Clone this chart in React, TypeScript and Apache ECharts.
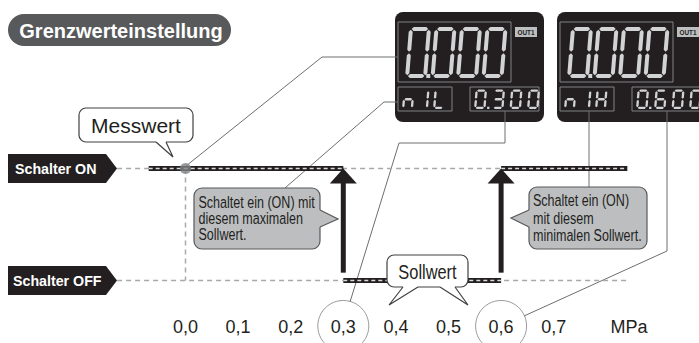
import React, { useEffect, useRef } from 'react';
import * as echarts from 'echarts';

// ---------- data ----------
const tickLabels = ['0,0', '0,1', '0,2', '0,3', '0,4', '0,5', '0,6', '0,7'];
const unitLabel = 'MPa';
const STATE_ON = 1;
const STATE_OFF = 0;
const measuredValue = 0.0;
const lowSetpoint = 0.3; // n1L
const highSetpoint = 0.6; // n1H
const lineStart = -0.13;
const lineEnd = 0.84;
const onLeftStart = -0.07;
const arrowBase = 0.07;
const circledValues = [0.3, 0.6];
const circleLevel = -0.406;
const mainReading = '0.000';
const displayCodes = ['n1L', 'n1H'];
const displayValues = [lowSetpoint.toFixed(3), highSetpoint.toFixed(3)];

const FONT = 'Liberation Sans, Arial, Helvetica, sans-serif';
const DARK = '#231f20';
const GRAY_LINE = '#6d6e71';

// ---------- 7 segment helper ----------
const SEG_MAP: Record<string, string> = {
  '0': 'abcdef', '1': 'bc', '2': 'abdeg', '3': 'abcdg', '4': 'bcfg', '5': 'acdfg',
  '6': 'acdefg', '7': 'abc', '8': 'abcdefg', '9': 'abcdfg', n: 'ceg', L: 'def', H: 'bcefg', ' ': '',
};

function segLocal(seg: string, w: number, h: number, t: number): number[][] {
  const g = Math.max(0.5, t * 0.18);
  const hor = (yc: number) => {
    const xa = t / 2, xb = w - t / 2;
    return [[xa + g, yc], [xa + g + t / 2, yc - t / 2], [xb - g - t / 2, yc - t / 2], [xb - g, yc], [xb - g - t / 2, yc + t / 2], [xa + g + t / 2, yc + t / 2]];
  };
  const ver = (xc: number, ya: number, yb: number) => [[xc, ya + g], [xc + t / 2, ya + g + t / 2], [xc + t / 2, yb - g - t / 2], [xc, yb - g], [xc - t / 2, yb - g - t / 2], [xc - t / 2, ya + g + t / 2]];
  switch (seg) {
    case 'a': return hor(t / 2);
    case 'g': return hor(h / 2);
    case 'd': return hor(h - t / 2);
    case 'f': return ver(t / 2, t / 2, h / 2);
    case 'b': return ver(w - t / 2, t / 2, h / 2);
    case 'e': return ver(t / 2, h / 2, h - t / 2);
    case 'c': return ver(w - t / 2, h / 2, h - t / 2);
  }
  return [];
}

function sevenSeg(str: string, xs: number[], y0: number, w: number, h: number, t: number, slant: number, color: string) {
  const els: any[] = [];
  let idx = 0;
  let prevX = xs[0];
  for (const ch of str) {
    if (ch === '.') {
      const nextX = xs[idx] !== undefined ? xs[idx] : prevX + w + 4;
      const dx = (prevX + w + nextX) / 2 - t / 2 - 0.5;
      els.push({ type: 'rect', shape: { x: dx, y: y0 + h - t, width: t, height: t }, style: { fill: color } });
      continue;
    }
    const cx = xs[idx];
    const segs = SEG_MAP[ch] || '';
    for (const s of segs) {
      const pts = segLocal(s, w, h, t).map(([px, py]) => [cx + px + slant * (h - py), y0 + py]);
      els.push({ type: 'polygon', shape: { points: pts }, style: { fill: color } });
    }
    prevX = cx;
    idx++;
  }
  return els;
}

function panel(dx: number, code: string, value: string) {
  const els: any[] = [];
  const segColor = '#d1d3d4';
  els.push({ type: 'rect', shape: { x: 395 + dx, y: 12, width: 149, height: 110, r: 8 }, style: { fill: '#231f20' } });
  els.push({ type: 'rect', shape: { x: 398 + dx, y: 22, width: 113, height: 60 }, style: { fill: 'none', stroke: '#808285', lineWidth: 1 } });
  els.push({ type: 'rect', shape: { x: 515 + dx, y: 27, width: 22, height: 10 }, style: { fill: '#bcbec0' } });
  els.push({ type: 'text', x: 517.5 + dx, y: 32.5, scaleX: 0.8, style: { x: 0, y: 0, text: 'OUT1', fill: DARK, font: 'bold 8px ' + FONT, verticalAlign: 'middle', align: 'left' } });
  els.push({ type: 'rect', shape: { x: 398 + dx, y: 87, width: 54, height: 24 }, style: { fill: 'none', stroke: '#808285', lineWidth: 1 } });
  els.push({ type: 'rect', shape: { x: 470 + dx, y: 87, width: 69, height: 24 }, style: { fill: 'none', stroke: '#808285', lineWidth: 1 } });
  els.push(...sevenSeg(mainReading, [405, 430.5, 456, 481.5].map((v) => v + dx), 27, 22, 51, 4, 0.08, segColor));
  els.push(...sevenSeg(code, [402, 417, 433].map((v) => v + dx), 89.5, 11, 19.5, 2.3, 0.08, segColor));
  els.push(...sevenSeg(value, [474, 492, 509.5, 527].map((v) => v + dx), 89.5, 11.5, 19.5, 2.3, 0.08, segColor));
  return els;
}

function bubbleTail(base1: number[], tip: number[], base2: number[], fill: string, stroke: string, inward: number[]) {
  const b1 = [base1[0] + inward[0], base1[1] + inward[1]];
  const b2 = [base2[0] + inward[0], base2[1] + inward[1]];
  return [
    { type: 'polygon', z: 10, shape: { points: [b1, base1, tip, base2, b2] }, style: { fill } },
    { type: 'polyline', z: 10, shape: { points: [base1, tip, base2] }, style: { stroke, lineWidth: 1.2, fill: 'none' } },
  ];
}

function buildGraphic() {
  const els: any[] = [];
  // heading pill
  els.push({ type: 'rect', shape: { x: 8, y: 14, width: 223, height: 32, r: 16 }, style: { fill: '#58595b' } });
  els.push({ type: 'text', x: 121, y: 30.5, style: { text: 'Grenzwerteinstellung', fill: '#fff', font: 'bold 20px ' + FONT, align: 'center', verticalAlign: 'middle' } });

  // Schalter labels
  els.push({ type: 'polygon', shape: { points: [[8, 154], [106, 154], [117, 168.5], [106, 183], [8, 183]] }, style: { fill: DARK } });
  els.push({ type: 'text', x: 15, y: 169, scaleX: 0.95, style: { x: 0, y: 0, text: 'Schalter ON', fill: '#fff', font: 'bold 15px ' + FONT, align: 'left', verticalAlign: 'middle' } });
  els.push({ type: 'polygon', shape: { points: [[8, 266], [106, 266], [117, 280.5], [106, 295], [8, 295]] }, style: { fill: DARK } });
  els.push({ type: 'text', x: 13, y: 281, scaleX: 0.95, style: { x: 0, y: 0, text: 'Schalter OFF', fill: '#fff', font: 'bold 15px ' + FONT, align: 'left', verticalAlign: 'middle' } });

  // panels
  els.push(...panel(0, displayCodes[0], displayValues[0]));
  els.push(...panel(162, displayCodes[1], displayValues[1]));

  // leader lines
  const leaders = [
    [[186, 166], [322, 57], [398, 57]],
    [[398, 102], [384, 102], [285, 188]],
    [[505, 111], [505, 143], [399, 143], [350, 302]],
    [[589, 111], [589, 187]],
    [[667, 111], [667, 251], [524, 316]],
  ];
  leaders.forEach((pts) => els.push({ type: 'polyline', z: 1, shape: { points: pts }, style: { stroke: GRAY_LINE, lineWidth: 1, fill: 'none' } }));

  // Messwert bubble
  els.push({ type: 'rect', z: 10, shape: { x: 79, y: 108, width: 114, height: 34, r: 7 }, style: { fill: '#fff', stroke: '#414042', lineWidth: 1.2 } });
  els.push(...bubbleTail([156, 142], [173, 157], [166, 142], '#fff', '#414042', [0, -2]));
  els.push({ type: 'text', z: 11, x: 136, y: 125.5, style: { text: 'Messwert', fill: DARK, font: '21px ' + FONT, align: 'center', verticalAlign: 'middle' } });

  // Sollwert bubble
  els.push({ type: 'rect', z: 10, shape: { x: 387, y: 255, width: 81, height: 32, r: 7 }, style: { fill: '#fff', stroke: '#414042', lineWidth: 1.2 } });
  els.push(...bubbleTail([403, 287], [389, 305], [418, 287], '#fff', '#414042', [0, -2]));
  els.push(...bubbleTail([440, 287], [468, 305], [455, 287], '#fff', '#414042', [0, -2]));
  els.push({ type: 'text', z: 11, x: 427.5, y: 271.5, scaleX: 0.82, style: { x: 0, y: 0, text: 'Sollwert', fill: DARK, font: '20px ' + FONT, align: 'center', verticalAlign: 'middle' } });

  // gray callouts
  const calloutFill = '#bcbec0';
  const calloutStroke = '#58595b';
  els.push({ type: 'rect', z: 10, shape: { x: 194, y: 188, width: 126, height: 61, r: 8 }, style: { fill: calloutFill, stroke: calloutStroke, lineWidth: 1.2 } });
  els.push(...bubbleTail([320, 210], [338, 219], [320, 227], calloutFill, calloutStroke, [-2, 0]));
  els.push({ type: 'text', z: 11, x: 198.5, y: 194, scaleX: 0.76, style: { x: 0, y: 0, text: 'Schaltet ein (ON) mit\ndiesem maximalen\nSollwert.', fill: DARK, font: '16.5px ' + FONT, lineHeight: 16, align: 'left', verticalAlign: 'top' } });

  els.push({ type: 'rect', z: 10, shape: { x: 529, y: 187, width: 118, height: 62, r: 8 }, style: { fill: calloutFill, stroke: calloutStroke, lineWidth: 1.2 } });
  els.push(...bubbleTail([529, 210], [511, 218], [529, 227], calloutFill, calloutStroke, [2, 0]));
  els.push({ type: 'text', z: 11, x: 533, y: 192, scaleX: 0.76, style: { x: 0, y: 0, text: 'Schaltet ein (ON)\nmit diesem\nminimalen Sollwert.', fill: DARK, font: '16.5px ' + FONT, lineHeight: 17.5, align: 'left', verticalAlign: 'top' } });

  // unit
  els.push({ type: 'text', x: 629, y: 327, style: { text: unitLabel, fill: DARK, font: '18px ' + FONT, align: 'center', verticalAlign: 'middle' } });
  return els;
}

function seg(a: number[], b: number[]) {
  return [a, b];
}

function buildOption(): any {
  const dashedLevels = [
    seg([lineStart, STATE_ON], [lineEnd, STATE_ON]),
    seg([lineStart, STATE_OFF], [lineEnd, STATE_OFF]),
    seg([measuredValue, STATE_ON], [measuredValue, STATE_OFF]),
  ];
  const thickSegments = [
    seg([onLeftStart, STATE_ON], [lowSetpoint, STATE_ON]),
    seg([lowSetpoint, STATE_OFF], [highSetpoint, STATE_OFF]),
    seg([highSetpoint, STATE_ON], [lineEnd, STATE_ON]),
  ];
  const series: any[] = [];
  dashedLevels.forEach((d) =>
    series.push({ type: 'line', data: d, symbol: 'none', clip: false, z: 2, lineStyle: { color: '#a7a9ac', width: 1.5, type: [5, 4] } })
  );
  thickSegments.forEach((d) => {
    series.push({ type: 'line', data: d, symbol: 'none', clip: false, z: 3, lineStyle: { color: DARK, width: 5, cap: 'butt' } });
    series.push({ type: 'line', data: d, symbol: 'none', clip: false, z: 4, lineStyle: { color: '#d9d9d9', width: 1.4, type: [4, 3] } });
  });
  series.push({
    type: 'custom',
    z: 5,
    clip: false,
    data: [[lowSetpoint, arrowBase, STATE_ON], [highSetpoint, arrowBase, STATE_ON]],
    encode: { x: 0, y: [1, 2] },
    renderItem: (params: any, api: any) => {
      const x = api.value(0);
      const base = api.coord([x, api.value(1)]);
      const tip = api.coord([x, api.value(2)]);
      const headH = 15, headW = 27, shaft = 5;
      return {
        type: 'group',
        children: [
          { type: 'rect', shape: { x: tip[0] - shaft / 2, y: tip[1] + headH - 1, width: shaft, height: base[1] - tip[1] - headH + 1 }, style: { fill: DARK } },
          { type: 'polygon', shape: { points: [[tip[0], tip[1]], [tip[0] + headW / 2, tip[1] + headH], [tip[0] - headW / 2, tip[1] + headH]] }, style: { fill: DARK } },
        ],
      };
    },
  });
  series.push({
    type: 'scatter', z: 6, clip: false, symbol: 'circle', symbolSize: 11,
    data: [[measuredValue, STATE_ON]], itemStyle: { color: '#808285' },
  });
  series.push({
    type: 'scatter', z: 1, clip: false, symbol: 'circle', symbolSize: 51,
    data: circledValues.map((v) => [v, circleLevel]),
    itemStyle: { color: 'rgba(255,255,255,0)', borderColor: '#808285', borderWidth: 1 },
  });

  return {
    animation: false,
    backgroundColor: '#ffffff',
    grid: { left: 80.3, right: 40.1, top: 168.5, bottom: 62.5 },
    xAxis: {
      type: 'value', min: -0.2, max: 0.9, interval: 0.1,
      axisLine: { show: false }, axisTick: { show: false }, splitLine: { show: false },
      axisLabel: {
        margin: 37, color: DARK, fontSize: 18, fontFamily: FONT, showMinLabel: true, showMaxLabel: true,
        formatter: (v: number) => {
          const i = Math.round(v * 10);
          return i >= 0 && i < tickLabels.length ? tickLabels[i] : '';
        },
      },
    },
    yAxis: { type: 'value', min: STATE_OFF, max: STATE_ON, show: false },
    graphic: { elements: buildGraphic() },
    series,
  };
}

export default function App() {
  const ref = useRef<HTMLDivElement>(null);
  useEffect(() => {
    const chart = echarts.init(ref.current!, null, { renderer: 'svg' });
    chart.setOption(buildOption());
    return () => chart.dispose();
  }, []);
  return <div ref={ref} style={{ position: 'fixed', left: 0, top: 0, width: 699, height: 343, background: '#fff' }} />;
}
